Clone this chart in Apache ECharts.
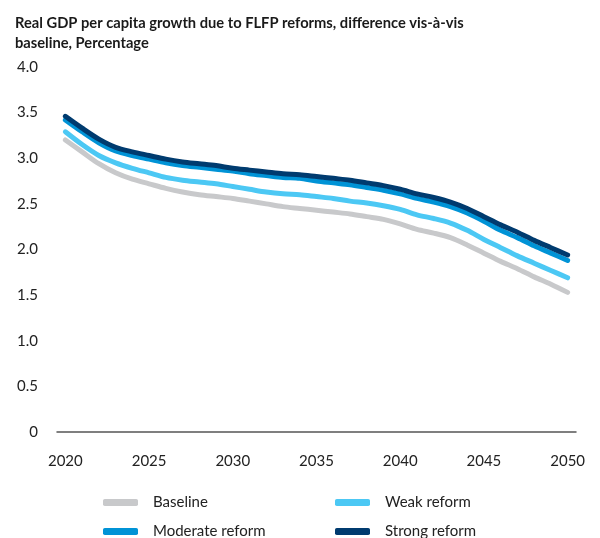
<!DOCTYPE html>
<html>
<head>
<meta charset="utf-8">
<script src="https://cdn.jsdelivr.net/npm/echarts@6/dist/echarts.min.js"></script>
<style>
  html, body { margin: 0; padding: 0; background: #fff; }
  #chart { width: 600px; height: 538px; }
</style>
</head>
<body>
<div id="chart"></div>
<script>
var years = [];
for (var y = 2020; y <= 2050; y++) years.push(String(y));

var baseline = [3.20, 3.07, 2.94, 2.84, 2.77, 2.72, 2.67, 2.63, 2.60, 2.58, 2.56, 2.53, 2.50, 2.47, 2.45, 2.43,
    2.41, 2.39, 2.36, 2.33, 2.28, 2.22, 2.18, 2.13, 2.05, 1.96, 1.87, 1.79, 1.70, 1.62, 1.53];
var weak = [3.29, 3.15, 3.03, 2.95, 2.89, 2.84, 2.79, 2.76, 2.74, 2.72, 2.69, 2.66, 2.63, 2.61, 2.60, 2.58,
    2.56, 2.53, 2.51, 2.48, 2.44, 2.38, 2.34, 2.29, 2.21, 2.11, 2.02, 1.93, 1.85, 1.77, 1.69];
var moderate = [3.42, 3.29, 3.17, 3.08, 3.03, 2.99, 2.95, 2.92, 2.90, 2.88, 2.86, 2.83, 2.81, 2.79, 2.78, 2.75,
    2.73, 2.71, 2.68, 2.65, 2.61, 2.56, 2.52, 2.47, 2.40, 2.31, 2.21, 2.13, 2.04, 1.96, 1.88];
var strong = [3.46, 3.33, 3.21, 3.12, 3.07, 3.03, 2.99, 2.96, 2.94, 2.92, 2.89, 2.87, 2.85, 2.83, 2.82, 2.80,
    2.78, 2.76, 2.73, 2.70, 2.66, 2.61, 2.57, 2.52, 2.45, 2.36, 2.27, 2.19, 2.10, 2.02, 1.94];

var names = ['Baseline', 'Weak reform', 'Moderate reform', 'Strong reform'];
var colors = ['#c8c9cb', '#4cc8f4', '#0093d6', '#003b6f'];
var seriesData = [baseline, weak, moderate, strong];

var font = 'Lato, "Open Sans", sans-serif';

function makeLegend(i, left, top) {
    return {
        left: left,
        top: top,
        data: [{name: names[i], icon: 'roundRect'}],
        itemWidth: 35,
        itemHeight: 7,
        itemGap: 0,
        textStyle: {fontFamily: font, fontSize: 15, color: '#222', padding: [0, 0, 0, 10]},
        selectedMode: false
    };
}

var myChart = echarts.init(document.getElementById('chart'));

var option = {
    backgroundColor: '#fff',
    animation: false,
    title: {
        text: 'Real GDP per capita growth due to FLFP reforms, difference vis-à-vis\nbaseline, Percentage',
        left: 10,
        top: 8,
        textStyle: {fontFamily: font, fontSize: 14.7, fontWeight: 'bold', color: '#1a1a1a', lineHeight: 20}
    },
    legend: [
        makeLegend(0, 98, 490),
        makeLegend(1, 330, 490),
        makeLegend(2, 98, 519),
        makeLegend(3, 330, 519)
    ],
    grid: {left: 57, right: 24, top: 67, bottom: 106, containLabel: false},
    xAxis: {
        type: 'category',
        data: years,
        boundaryGap: true,
        axisLine: {lineStyle: {color: '#555', width: 1.5}},
        axisTick: {show: false},
        axisLabel: {
            interval: 4,
            margin: 22,
            fontFamily: font,
            fontSize: 15,
            color: '#222'
        },
        splitLine: {show: false}
    },
    yAxis: {
        type: 'value',
        min: 0,
        max: 4,
        interval: 0.5,
        axisLine: {show: false},
        axisTick: {show: false},
        splitLine: {show: false},
        axisLabel: {
            margin: 19,
            fontFamily: font,
            fontSize: 15,
            color: '#222',
            formatter: function (v) { return v === 0 ? '0' : v.toFixed(1); }
        }
    },
    series: seriesData.map(function (d, i) {
        return {
            name: names[i],
            type: 'line',
            data: d,
            smooth: 0.3,
            symbol: 'none',
            lineStyle: {width: 5, color: colors[i], cap: 'round'},
            itemStyle: {color: colors[i]},
            z: 2 + i
        };
    })
};

myChart.setOption(option);
</script>
</body>
</html>
